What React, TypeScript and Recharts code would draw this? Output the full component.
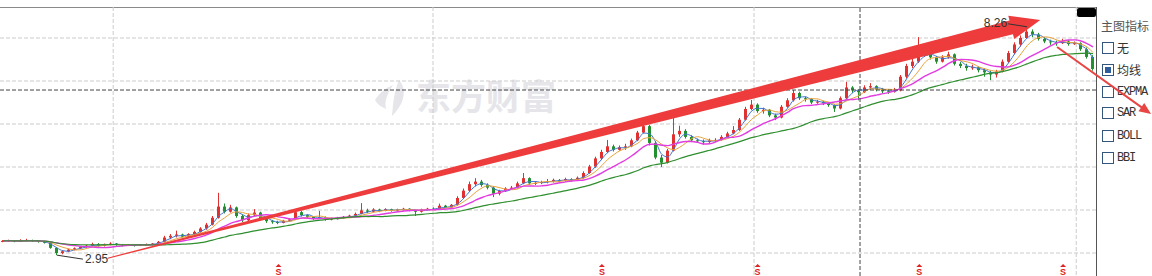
import {
  Bar,
  CartesianGrid,
  ComposedChart,
  Line,
  ReferenceDot,
  ReferenceLine,
  XAxis,
  YAxis,
} from "recharts"

// [open, high, low, close], one entry per bar
const ohlc: [number, number, number, number][] = [
  [3.27, 3.3, 3.25, 3.28], [3.28, 3.31, 3.26, 3.29], [3.29, 3.3, 3.25, 3.27], [3.27, 3.32, 3.26, 3.28],
  [3.28, 3.33, 3.27, 3.3], [3.3, 3.31, 3.26, 3.28], [3.28, 3.29, 3.24, 3.26], [3.26, 3.28, 3.22, 3.24],
  [3.24, 3.25, 3.1, 3.12], [3.12, 3.14, 2.95, 3.0],
  // 10
  [3.0, 3.06, 2.97, 3.04], [3.04, 3.1, 3.02, 3.08], [3.08, 3.13, 3.06, 3.11], [3.11, 3.16, 3.09, 3.14],
  [3.14, 3.19, 3.12, 3.17], [3.17, 3.24, 3.15, 3.21], [3.21, 3.23, 3.15, 3.17], [3.17, 3.22, 3.15, 3.2],
  [3.2, 3.25, 3.18, 3.22], [3.22, 3.23, 3.17, 3.19],
  // 20
  [3.19, 3.21, 3.15, 3.17], [3.17, 3.21, 3.16, 3.19], [3.19, 3.2, 3.15, 3.17], [3.17, 3.21, 3.16, 3.19],
  [3.19, 3.22, 3.17, 3.2], [3.2, 3.23, 3.18, 3.22], [3.22, 3.28, 3.21, 3.26], [3.26, 3.4, 3.25, 3.36],
  [3.36, 3.44, 3.32, 3.4], [3.4, 3.52, 3.36, 3.43],
  // 30
  [3.43, 3.45, 3.36, 3.38], [3.38, 3.46, 3.36, 3.44], [3.44, 3.52, 3.42, 3.49], [3.49, 3.6, 3.47, 3.57],
  [3.57, 3.7, 3.54, 3.66], [3.66, 3.86, 3.64, 3.82], [3.82, 4.4, 3.8, 4.08], [4.08, 4.15, 3.92, 3.96],
  [3.96, 4.12, 3.94, 4.06], [4.06, 4.08, 3.82, 3.86],
  // 40
  [3.86, 3.9, 3.72, 3.76], [3.76, 3.92, 3.74, 3.88], [3.88, 4.02, 3.86, 3.94], [3.94, 3.96, 3.76, 3.79],
  [3.79, 3.82, 3.7, 3.74], [3.74, 3.77, 3.68, 3.72], [3.72, 3.75, 3.67, 3.7], [3.7, 3.77, 3.69, 3.75],
  [3.75, 3.8, 3.73, 3.78], [3.78, 4.0, 3.77, 3.95],
  // 50
  [3.95, 3.98, 3.85, 3.88], [3.88, 3.9, 3.81, 3.84], [3.84, 3.86, 3.77, 3.8], [3.8, 3.98, 3.79, 3.83],
  [3.83, 3.85, 3.75, 3.78], [3.78, 3.82, 3.76, 3.8], [3.8, 3.84, 3.78, 3.81], [3.81, 3.86, 3.79, 3.84],
  [3.84, 3.89, 3.82, 3.87], [3.87, 3.94, 3.85, 3.91],
  // 60
  [3.91, 4.16, 3.9, 3.99], [3.99, 4.03, 3.93, 3.96], [3.96, 4.04, 3.95, 4.01], [4.01, 4.03, 3.95, 3.98],
  [3.98, 4.04, 3.97, 4.02], [4.02, 4.03, 3.96, 3.99], [3.99, 4.03, 3.97, 4.01], [4.01, 4.05, 3.99, 4.03],
  [4.03, 4.04, 3.97, 4.0], [4.0, 4.01, 3.86, 3.96],
  // 70
  [3.96, 4.03, 3.94, 4.01], [4.01, 4.05, 3.99, 4.03], [4.03, 4.06, 4.0, 4.02], [4.02, 4.15, 4.01, 4.1],
  [4.1, 4.12, 4.04, 4.06], [4.06, 4.14, 4.05, 4.12], [4.12, 4.32, 4.1, 4.28], [4.28, 4.5, 4.26, 4.45],
  [4.45, 4.66, 4.42, 4.6], [4.6, 4.74, 4.55, 4.66],
  // 80
  [4.66, 4.7, 4.54, 4.58], [4.58, 4.62, 4.48, 4.52], [4.52, 4.55, 4.3, 4.38], [4.38, 4.47, 4.34, 4.44],
  [4.44, 4.53, 4.42, 4.5], [4.5, 4.56, 4.47, 4.52], [4.52, 4.66, 4.5, 4.62], [4.62, 4.86, 4.6, 4.74],
  [4.74, 4.76, 4.58, 4.62], [4.62, 4.66, 4.58, 4.63],
  // 90
  [4.63, 4.68, 4.6, 4.65], [4.65, 4.72, 4.62, 4.67], [4.67, 4.73, 4.64, 4.7], [4.7, 4.72, 4.64, 4.68],
  [4.68, 4.75, 4.66, 4.72], [4.72, 4.74, 4.66, 4.7], [4.7, 4.78, 4.68, 4.75], [4.75, 4.9, 4.73, 4.86],
  [4.86, 5.05, 4.84, 5.01], [5.01, 5.24, 4.98, 5.2],
  // 100
  [5.2, 5.4, 5.16, 5.35], [5.35, 5.63, 5.32, 5.48], [5.48, 5.52, 5.36, 5.4], [5.4, 5.5, 5.38, 5.46],
  [5.46, 5.54, 5.4, 5.48], [5.48, 5.66, 5.46, 5.62], [5.62, 5.84, 5.6, 5.8], [5.8, 6.02, 5.78, 5.95],
  [5.95, 5.98, 5.5, 5.56], [5.56, 5.6, 5.18, 5.22],
  // 110
  [5.22, 5.28, 5.0, 5.1], [5.1, 5.42, 5.08, 5.38], [5.38, 6.16, 5.36, 5.76], [5.76, 5.96, 5.7, 5.84],
  [5.84, 5.88, 5.66, 5.7], [5.7, 5.74, 5.58, 5.62], [5.62, 5.66, 5.56, 5.6], [5.6, 5.64, 5.52, 5.58],
  [5.58, 5.66, 5.56, 5.62], [5.62, 5.67, 5.58, 5.63],
  // 120
  [5.63, 5.74, 5.61, 5.7], [5.7, 5.82, 5.68, 5.78], [5.78, 5.95, 5.76, 5.86], [5.86, 6.14, 5.84, 6.1],
  [6.1, 6.4, 6.08, 6.35], [6.35, 6.56, 6.32, 6.45], [6.45, 6.48, 6.26, 6.3], [6.3, 6.38, 6.24, 6.33],
  [6.33, 6.35, 6.16, 6.2], [6.2, 6.24, 6.09, 6.15],
  // 130
  [6.15, 6.44, 6.13, 6.4], [6.4, 6.6, 6.38, 6.55], [6.55, 6.79, 6.52, 6.72], [6.72, 6.75, 6.56, 6.6],
  [6.6, 6.64, 6.52, 6.58], [6.58, 6.6, 6.46, 6.5], [6.5, 6.56, 6.47, 6.52], [6.52, 6.54, 6.44, 6.48],
  [6.48, 6.51, 6.4, 6.44], [6.44, 6.46, 6.28, 6.36],
  // 140
  [6.36, 6.64, 6.34, 6.6], [6.6, 6.98, 6.58, 6.85], [6.85, 6.88, 6.72, 6.78], [6.78, 6.8, 6.55, 6.74],
  [6.74, 6.9, 6.72, 6.85], [6.85, 6.95, 6.8, 6.88], [6.88, 6.9, 6.76, 6.8], [6.8, 6.84, 6.72, 6.76],
  [6.76, 6.8, 6.7, 6.75], [6.75, 6.84, 6.73, 6.78],
  // 150
  [6.78, 7.14, 6.76, 7.1], [7.1, 7.4, 7.06, 7.35], [7.35, 7.52, 7.3, 7.45], [7.45, 8.02, 7.42, 7.6],
  [7.6, 7.76, 7.56, 7.7], [7.7, 7.72, 7.5, 7.55], [7.55, 7.58, 7.4, 7.45], [7.45, 7.6, 7.43, 7.55],
  [7.55, 7.68, 7.52, 7.62], [7.62, 7.64, 7.36, 7.4],
  // 160
  [7.4, 7.44, 7.3, 7.35], [7.35, 7.4, 7.24, 7.3], [7.3, 7.38, 7.26, 7.32], [7.32, 7.34, 7.2, 7.25],
  [7.25, 7.3, 7.1, 7.2], [7.2, 7.24, 7.02, 7.15], [7.15, 7.26, 7.08, 7.22], [7.22, 7.5, 7.2, 7.45],
  [7.45, 7.7, 7.42, 7.65], [7.65, 7.9, 7.62, 7.85],
  // 170
  [7.85, 8.06, 7.8, 8.0], [8.0, 8.26, 7.98, 8.15], [8.15, 8.2, 8.02, 8.08], [8.08, 8.12, 7.94, 7.98],
  [7.98, 8.02, 7.88, 7.92], [7.92, 7.96, 7.84, 7.9], [7.9, 7.94, 7.82, 7.88], [7.88, 7.98, 7.86, 7.92],
  [7.92, 7.95, 7.82, 7.86], [7.86, 7.92, 7.84, 7.88],
  // 180
  [7.88, 7.9, 7.7, 7.74], [7.74, 7.78, 7.52, 7.56], [7.56, 7.6, 7.24, 7.28],
]

const maPeriods = [3, 5, 10, 25]
const maColors = ["#3f74cf", "#e8a33a", "#e23ce0", "#2f8f2f"]
const maWidths = [1, 1, 1.4, 1.2]

const priceTicks = [3, 4, 5, 6, 7, 8]
const gridDates = [18.4, 71.8, 125.4, 179.2]
const eventDates = [46, 100, 126, 153, 177]
const crossPrice = 6.79
const crossDate = 143.1

// hand-drawn arrows, in chart units (bar index, price)
const trendUp = [{ x: 17.5, y: 2.88 }, { x: 173.2, y: 8.42 }]
const trendDown = [{ x: 176.0, y: 7.79 }, { x: 191.7, y: 6.23 }]

const indicators = ["无", "均线", "EXPMA", "SAR", "BOLL", "BBI"]
const activeIndicator = "均线"

const UP = "#e0302f"
const DOWN = "#23902f"

const rows = ohlc.map(([o, h, l, c], i) => {
  const row: Record<string, any> = { i, o, h, l, c, range: [l, h] }
  maPeriods.forEach(n => {
    const s = Math.max(0, i - n + 1)
    let sum = 0
    for (let j = s; j <= i; j++) sum += ohlc[j][3]
    row["ma" + n] = sum / (i - s + 1)
  })
  return row
})

const hiIdx = ohlc.reduce((b, d, i) => (d[1] > ohlc[b][1] ? i : b), 0)
const loIdx = ohlc.reduce((b, d, i) => (d[2] < ohlc[b][2] ? i : b), 0)

const Candle = (props: any) => {
  const { x, y, width, height, payload } = props
  if (x == null || !payload) return null
  const { o, h, l, c } = payload
  const top = Math.min(y, y + height)
  const hgt = Math.abs(height)
  const yOf = (v: number) => top + ((h - v) / (h - l || 1)) * hgt
  const color = c >= o ? UP : DOWN
  const left = Math.round(x + width / 2 - 1.5)
  const bTop = yOf(Math.max(o, c))
  const bH = Math.max(1, yOf(Math.min(o, c)) - bTop)
  return (
    <g>
      <line x1={left + 1.5} x2={left + 1.5} y1={top} y2={top + hgt} stroke={color} strokeWidth={1} />
      <rect x={left} y={bTop} width={3} height={bH} fill={color} />
    </g>
  )
}

const taperArrow =
  (w0: number, w1: number, head: number, headW: number, color: string) => (p: any) => {
    const { x1, y1, x2, y2 } = p
    if (x1 == null) return null
    const dx = x2 - x1
    const dy = y2 - y1
    const len = Math.hypot(dx, dy)
    const ux = dx / len
    const uy = dy / len
    const nx = -uy
    const ny = ux
    const bx = x2 - ux * head
    const by = y2 - uy * head
    const pts = [
      [x1 + nx * w0, y1 + ny * w0],
      [bx + nx * w1, by + ny * w1],
      [bx + nx * headW, by + ny * headW],
      [x2, y2],
      [bx - nx * headW, by - ny * headW],
      [bx - nx * w1, by - ny * w1],
      [x1 - nx * w0, y1 - ny * w0],
    ]
    return <polygon points={pts.map(q => q.join(",")).join(" ")} fill={color} />
  }

const HighLabel = (p: any) => (
  <g>
    <line x1={p.cx} y1={p.cy} x2={p.cx - 19} y2={p.cy - 3} stroke="#333" strokeWidth={1} />
    <text x={p.cx - 20} y={p.cy} textAnchor="end" fontSize={12} fill="#333" fontFamily="Liberation Sans, Arial">
      {ohlc[hiIdx][1].toFixed(2)}
    </text>
  </g>
)

const LowLabel = (p: any) => (
  <g>
    <line x1={p.cx} y1={p.cy} x2={p.cx + 26} y2={p.cy + 4} stroke="#333" strokeWidth={1} />
    <text x={p.cx + 28} y={p.cy + 8} fontSize={12} fill="#333" fontFamily="Liberation Sans, Arial">
      {ohlc[loIdx][2].toFixed(2)}
    </text>
  </g>
)

const EventMark = (p: any) => (
  <g fill="#e02222">
    <polygon points={`${p.cx - 3},${p.cy - 2} ${p.cx},${p.cy - 5} ${p.cx + 3},${p.cy - 2}`} />
    <text x={p.cx} y={p.cy + 6} textAnchor="middle" fontSize={9} fontWeight="bold" fontFamily="Liberation Sans, Arial">
      S
    </text>
  </g>
)

export default function App() {
  const rowTops = [48, 70, 92, 113, 136, 158]
  return (
    <div style={{ position: "fixed", left: 0, top: 0, width: 1152, height: 276, background: "#fff", overflow: "hidden" }}>
      <svg width={1152} height={276} style={{ position: "absolute", left: 0, top: 0 }}>
        <g fill="#e5e5ea">
          <path d="M375 100 C380 92 386 88 393 85 C388 93 384 100 386 109 C381 107 377 104 375 100 Z" />
          <path d="M399 80 C407 89 405 103 392 116 C393 104 394 92 399 80 Z" />
          <text x={416} y={110} fontSize={35} fontWeight="bold" fontFamily="Noto Sans CJK SC">
            东方财富
          </text>
        </g>
        <line x1={0} x2={1096} y1={7.5} y2={7.5} stroke="#8a8a8a" />
        <line x1={1096.5} x2={1096.5} y1={7} y2={276} stroke="#555" />
        <rect x={1077} y={8} width={19} height={9} rx={2} fill="#000" />
      </svg>
      <div style={{ position: "absolute", left: 1101, top: 19, fontSize: 12, lineHeight: "14px", color: "#555", fontFamily: "Noto Sans CJK SC" }}>
        主图指标
      </div>
      {indicators.map((name, k) => {
        const cjk = /[\u4e00-\u9fff]/.test(name)
        return (
          <div key={name} style={{ position: "absolute", left: 1102, top: rowTops[k] - 6, height: 12, display: "flex", alignItems: "center" }}>
            <div style={{ width: 10, height: 10, border: "1px solid #34567c", position: "relative", boxSizing: "content-box" }}>
              {name === activeIndicator && (
                <div style={{ position: "absolute", left: 2, top: 2, width: 6, height: 6, background: "#2f5d9c" }} />
              )}
            </div>
            <span
              style={{
                marginLeft: 3,
                fontSize: 12,
                color: "#333",
                fontFamily: cjk ? "Noto Sans CJK SC" : "Liberation Mono",
                letterSpacing: cjk ? 0 : -1.2,
                lineHeight: "12px",
              }}
            >
              {name}
            </span>
          </div>
        )
      })}
      <div style={{ position: "absolute", left: 0, top: 0 }}>
        <ComposedChart width={1152} height={276} data={rows} margin={{ top: 7, right: 56, bottom: 0, left: 0 }}>
          <XAxis dataKey="i" type="number" domain={[-0.5, 182.5]} hide allowDataOverflow />
          <YAxis type="number" domain={[2.4651, 8.7209]} hide allowDataOverflow />
          <CartesianGrid
            horizontalValues={priceTicks}
            verticalValues={gridDates}
            stroke="#cccccc"
            strokeDasharray="4 2"
          />
          <Bar dataKey="range" barSize={3} shape={Candle} isAnimationActive={false} />
          {maPeriods.map((n, k) => (
            <Line
              key={n}
              dataKey={"ma" + n}
              type="monotone"
              stroke={maColors[k]}
              strokeWidth={maWidths[k]}
              dot={false}
              activeDot={false}
              isAnimationActive={false}
            />
          ))}
          <ReferenceLine y={crossPrice} stroke="#444" strokeDasharray="4 2" />
          <ReferenceLine x={crossDate} stroke="#444" strokeDasharray="4 2" />
          {eventDates.map(d => (
            <ReferenceDot key={d} x={d} y={2.63} ifOverflow="visible" shape={EventMark} />
          ))}
          <ReferenceDot x={loIdx} y={ohlc[loIdx][2]} ifOverflow="visible" shape={LowLabel} />
          <ReferenceDot x={hiIdx} y={ohlc[hiIdx][1]} ifOverflow="visible" shape={HighLabel} />
          <ReferenceLine segment={trendUp} ifOverflow="visible" shape={taperArrow(0.5, 7, 30, 12, "#ee3b3b")} />
          <ReferenceLine segment={trendDown} ifOverflow="visible" shape={taperArrow(1, 1, 12, 5, "#e84545")} />
        </ComposedChart>
      </div>
    </div>
  )
}
